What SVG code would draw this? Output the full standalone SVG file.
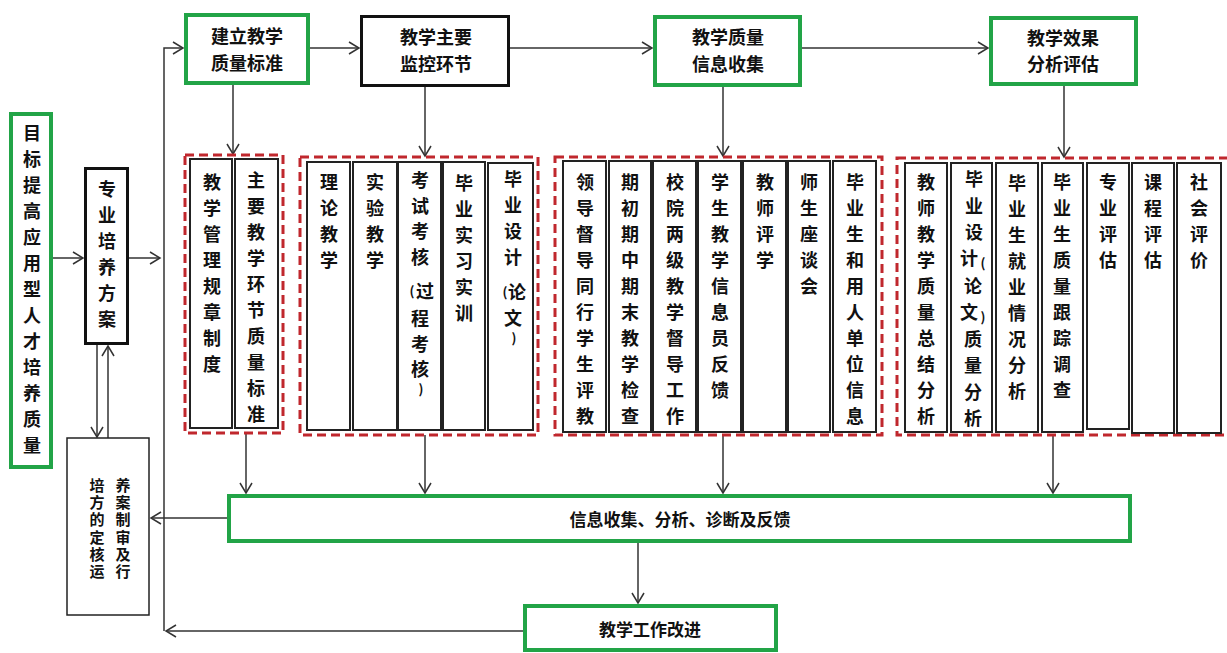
<svg xmlns="http://www.w3.org/2000/svg" width="1227" height="653" viewBox="0 0 1227 653">
<style>
text{font-family:"Noto Sans CJK SC","Liberation Sans",sans-serif;font-weight:bold;fill:#111;font-size:18px}
.c{text-anchor:middle;dominant-baseline:central}
.v{writing-mode:vertical-rl;letter-spacing:8px}
.g{fill:#fff;stroke:#22A447;stroke-width:4}
.k{fill:#fff;stroke:#111;stroke-width:3}
.t{fill:#fff;stroke:#222;stroke-width:1.5}
.d{fill:none;stroke:#C0272D;stroke-width:3;stroke-dasharray:9 5}
.col{fill:#fff;stroke:#222;stroke-width:2}
.ln{fill:none;stroke:#333;stroke-width:1.5}
.p{font-size:13px}
</style>
<defs>
<marker id="ah" markerUnits="userSpaceOnUse" markerWidth="14" markerHeight="14" refX="11" refY="7" orient="auto">
<path d="M1,1 L11,7 L1,13" fill="none" stroke="#333" stroke-width="1.5"/>
</marker>
</defs>
<rect width="1227" height="653" fill="#fff"/>

<g id="connectors">
<path class="ln" d="M53,258 H83" marker-end="url(#ah)"/>
<path class="ln" d="M129,258 H160" marker-end="url(#ah)"/>
<path class="ln" d="M97,345 V437" marker-end="url(#ah)"/>
<path class="ln" d="M108,438 V346" marker-end="url(#ah)"/>
<path class="ln" d="M164,631 V48 H183" marker-end="url(#ah)"/>
<path class="ln" d="M523,631 H166" marker-end="url(#ah)"/>
<path class="ln" d="M310,48 H359" marker-end="url(#ah)"/>
<path class="ln" d="M510,48 H652" marker-end="url(#ah)"/>
<path class="ln" d="M802,48 H988" marker-end="url(#ah)"/>
<path class="ln" d="M233,85 V154" marker-end="url(#ah)"/>
<path class="ln" d="M425,87 V156" marker-end="url(#ah)"/>
<path class="ln" d="M723,87 V156" marker-end="url(#ah)"/>
<path class="ln" d="M1064,86 V157" marker-end="url(#ah)"/>
<path class="ln" d="M246,433 V493" marker-end="url(#ah)"/>
<path class="ln" d="M425,435 V493" marker-end="url(#ah)"/>
<path class="ln" d="M723,435 V493" marker-end="url(#ah)"/>
<path class="ln" d="M1053,435 V493" marker-end="url(#ah)"/>
<path class="ln" d="M227,518 H151" marker-end="url(#ah)"/>
<path class="ln" d="M638,543 V603" marker-end="url(#ah)"/>
</g>

<g id="goal">
<rect class="g" x="11" y="114" width="40" height="353"/>
<text class="v" x="32" y="124">目标提高应用型人才培养质量</text>
</g>

<g id="plan">
<rect class="k" x="85.5" y="168.5" width="42" height="175"/>
<text class="v" x="107" y="180">专业培养方案</text>
</g>

<g id="plan-review">
<rect class="t" x="67" y="438" width="82" height="177"/>
<text style="font-size:15px;letter-spacing:11px;dominant-baseline:central">
<tspan x="89.5" y="484">培养</tspan>
<tspan x="89.5" y="501">方案</tspan>
<tspan x="89.5" y="518">的制</tspan>
<tspan x="89.5" y="536">定审</tspan>
<tspan x="89.5" y="553">核及</tspan>
<tspan x="89.5" y="570">运行</tspan>
</text>
</g>

<g id="standard">
<rect class="g" x="186" y="15" width="122" height="68"/>
<text class="c" x="247" y="35">建立教学</text>
<text class="c" x="247" y="62">质量标准</text>
</g>

<g id="monitor">
<rect class="k" x="361.5" y="16.5" width="147" height="69"/>
<text class="c" x="436" y="36">教学主要</text>
<text class="c" x="436" y="63">监控环节</text>
</g>

<g id="collect">
<rect class="g" x="655" y="17" width="145" height="68"/>
<text class="c" x="728" y="36">教学质量</text>
<text class="c" x="728" y="63">信息收集</text>
</g>

<g id="evaluate">
<rect class="g" x="991" y="18" width="145" height="66"/>
<text class="c" x="1063" y="37">教学效果</text>
<text class="c" x="1063" y="63">分析评估</text>
</g>

<g id="group-standard">
<rect class="d" x="185" y="155" width="98" height="278"/>
<rect class="col" x="190" y="159" width="42" height="269"/>
<rect class="col" x="235" y="159" width="43" height="269"/>
<text class="v" x="212" y="173">教学管理规章制度</text>
<text class="v" x="256" y="171">主要教学环节质量标准</text>
</g>

<g id="group-monitor">
<rect class="d" x="300" y="157" width="238" height="278"/>
<rect class="col" x="307" y="162" width="43" height="268"/>
<rect class="col" x="353" y="162" width="44" height="268"/>
<rect class="col" x="398" y="162" width="43" height="268"/>
<rect class="col" x="443" y="162" width="42" height="268"/>
<rect class="col" x="488" y="163" width="45" height="267"/>
<text class="v" x="329" y="173">理论教学</text>
<text class="v" x="375" y="173">实验教学</text>
<text class="c">
<tspan x="420" y="179">考</tspan><tspan x="420" y="205">试</tspan><tspan x="420" y="230">考</tspan><tspan x="420" y="256">核</tspan><tspan class="p" x="412" y="290">(</tspan><tspan x="425" y="290">过</tspan><tspan x="420" y="317">程</tspan><tspan x="420" y="343">考</tspan><tspan x="420" y="368">核</tspan><tspan class="p" x="421" y="388">)</tspan>
</text>
<text class="v" x="464" y="174">毕业实习实训</text>
<text class="c">
<tspan x="513" y="178">毕</tspan><tspan x="513" y="204">业</tspan><tspan x="513" y="230">设</tspan><tspan x="513" y="256">计</tspan><tspan class="p" x="505" y="291">(</tspan><tspan x="517" y="291">论</tspan><tspan x="513" y="317">文</tspan><tspan class="p" x="514" y="337">)</tspan>
</text>
</g>

<g id="group-collect">
<rect class="d" x="555" y="157" width="327" height="278"/>
<rect class="col" x="563" y="161" width="43" height="271"/>
<rect class="col" x="609" y="161" width="42" height="271"/>
<rect class="col" x="653" y="161" width="43" height="271"/>
<rect class="col" x="698" y="161" width="43" height="271"/>
<rect class="col" x="743" y="161" width="43" height="271"/>
<rect class="col" x="788" y="161" width="42" height="271"/>
<rect class="col" x="833" y="161" width="43" height="271"/>
<text class="v" x="585" y="173">领导督导同行学生评教</text>
<text class="v" x="630" y="173">期初期中期末教学检查</text>
<text class="v" x="675" y="173">校院两级教学督导工作</text>
<text class="v" x="720" y="173">学生教学信息员反馈</text>
<text class="v" x="765" y="173">教师评学</text>
<text class="v" x="809" y="173">师生座谈会</text>
<text class="v" x="855" y="173">毕业生和用人单位信息</text>
</g>

<g id="group-evaluate">
<rect class="d" x="897" y="158" width="340" height="277"/>
<rect class="col" x="905" y="163" width="42" height="269"/>
<rect class="col" x="951" y="163" width="41" height="269"/>
<rect class="col" x="996" y="163" width="42" height="269"/>
<rect class="col" x="1042" y="163" width="41" height="269"/>
<rect class="col" x="1087" y="163" width="42" height="266"/>
<rect class="col" x="1132" y="163" width="42" height="270"/>
<rect class="col" x="1177" y="163" width="44" height="270"/>
<text class="v" x="926" y="173">教师教学质量总结分析</text>
<text class="c">
<tspan x="974" y="178">毕</tspan><tspan x="974" y="205">业</tspan><tspan x="974" y="231">设</tspan><tspan x="969" y="257">计</tspan><tspan class="p" x="983" y="262">(</tspan><tspan x="973" y="285">论</tspan><tspan x="969" y="311">文</tspan><tspan class="p" x="983" y="316">)</tspan><tspan x="973" y="338">质</tspan><tspan x="973" y="364">量</tspan><tspan x="973" y="391">分</tspan><tspan x="973" y="417">析</tspan>
</text>
<text class="v" x="1017" y="174">毕业生就业情况分析</text>
<text class="v" x="1062" y="173">毕业生质量跟踪调查</text>
<text class="v" x="1108" y="173">专业评估</text>
<text class="v" x="1153" y="173">课程评估</text>
<text class="v" x="1199" y="173">社会评价</text>
</g>

<g id="feedback">
<rect class="g" x="229" y="496" width="901" height="45"/>
<text class="c" x="680" y="518" style="font-size:17px">信息收集、分析、诊断及反馈</text>
</g>

<g id="improve">
<rect class="g" x="525" y="606" width="251" height="44"/>
<text class="c" x="650" y="628" style="font-size:17px">教学工作改进</text>
</g>
</svg>
